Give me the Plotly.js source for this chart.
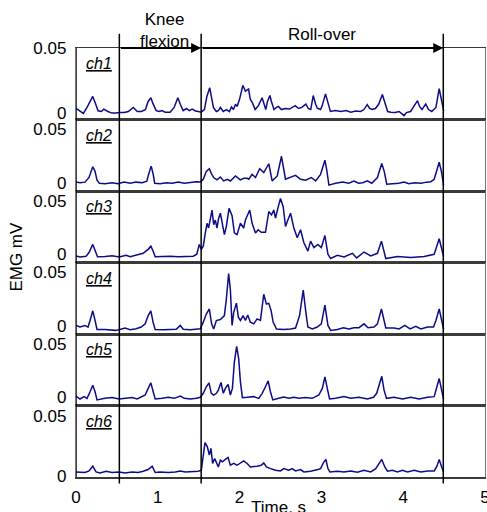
<!DOCTYPE html>
<html>
<head>
<meta charset="utf-8">
<script src="https://cdn.plot.ly/plotly-3.0.1.min.js"></script>
<style>html,body{margin:0;padding:0;background:#fff;}#chart{width:487px;height:512px;}</style>
</head>
<body>
<div id="chart"></div>
<script>
// ---- data (time in s, EMG in mV) ----
var ch1_t = [0,0.05,0.09,0.135,0.17,0.205,0.23,0.27,0.31,0.34,0.39,0.44,0.49,0.53,0.59,0.64,0.70,0.75,0.80,0.85,0.88,0.915,0.94,0.98,1.02,1.05,1.09,1.15,1.20,1.245,1.275,1.31,1.35,1.385,1.42,1.46,1.495,1.53,1.57,1.60,1.635,1.655,1.68,1.715,1.74,1.765,1.80,1.84,1.875,1.90,1.925,1.95,1.97,2.0,2.04,2.07,2.11,2.13,2.16,2.19,2.23,2.275,2.30,2.32,2.34,2.37,2.39,2.42,2.45,2.475,2.51,2.56,2.61,2.65,2.68,2.72,2.76,2.81,2.84,2.87,2.90,2.93,2.95,2.99,3.01,3.05,3.08,3.11,3.17,3.24,3.30,3.36,3.42,3.48,3.52,3.56,3.59,3.62,3.66,3.70,3.745,3.775,3.81,3.85,3.90,3.95,4.01,4.04,4.09,4.13,4.175,4.20,4.23,4.275,4.31,4.35,4.40,4.44,4.46,4.495];
var ch1_v = [0.004,0.0015,0.0,0.0046,0.009,0.013,0.009,0.002,0.0015,0.0033,0.0015,0.0003,0.0003,0.0007,0.0007,0.0015,0.0046,0.0015,0.0015,0.003,0.009,0.012,0.0077,0.0022,0.0015,0.0022,0.001,0.001,0.0046,0.012,0.007,0.0022,0.0038,0.0022,0.0034,0.0019,0.0015,0.001,0.003,0.013,0.0196,0.013,0.0046,0.0015,0.0022,0.0046,0.0015,0.003,0.0015,0.005,0.003,0.007,0.0054,0.011,0.0215,0.017,0.0186,0.011,0.0077,0.003,0.006,0.012,0.007,0.003,0.009,0.0137,0.009,0.003,0.0046,0.0054,0.003,0.0038,0.0034,0.0046,0.006,0.0038,0.0046,0.0072,0.0038,0.003,0.0137,0.007,0.004,0.003,0.006,0.015,0.009,0.0015,0.0022,0.0015,0.0022,0.001,0.0019,0.0015,0.003,0.0067,0.0038,0.003,0.0038,0.007,0.0145,0.009,0.0015,0.001,0.0007,0.0015,-0.0016,0.0007,0.0015,0.0054,0.0098,0.0054,0.003,0.0072,0.003,0.0015,0.0046,0.019,0.0116,0.002];

var ch2_t = [0,0.049,0.11,0.159,0.205,0.233,0.257,0.286,0.355,0.441,0.515,0.588,0.662,0.735,0.809,0.866,0.888,0.919,0.944,0.962,1.029,1.103,1.176,1.25,1.324,1.397,1.471,1.52,1.556,1.593,1.63,1.654,1.683,1.724,1.765,1.805,1.85,1.887,1.949,2.01,2.05,2.092,2.112,2.153,2.194,2.246,2.295,2.357,2.398,2.46,2.512,2.561,2.623,2.684,2.745,2.806,2.876,2.929,2.99,3.015,3.043,3.064,3.092,3.174,3.26,3.333,3.398,3.456,3.505,3.562,3.615,3.685,3.713,3.738,3.768,3.799,3.873,3.946,4.011,4.069,4.142,4.216,4.289,4.338,4.379,4.412,4.44,4.467,4.494];
var ch2_v = [0.0008,0,0.0006,0.005,0.015,0.0107,0.0024,-0.0004,-0.0008,0,-0.0008,0.0006,-0.0004,0.0006,0,0.0015,0.0079,0.0156,0.0079,-0.0004,-0.0008,0,-0.0004,0.0006,-0.0004,0.0006,0.001,0.0008,0.0033,0.0107,0.0132,0.0088,0.0049,0.0027,0.0054,0.0017,0.0033,0.0017,0.0064,0.0027,0.0042,0.0042,0.0033,0.0079,0.0049,0.0132,0.0095,0.0178,0.0017,0.0064,0.0248,0.0033,0.0049,0.007,0.0033,0.0024,0.0049,0.0017,0.0079,0.0144,0.0211,0.0125,-0.0022,-0.0004,0.0006,-0.0004,0.0017,-0.0004,0,0.0019,-0.0004,0.0049,0.0125,0.018,0.0107,-0.0013,-0.0008,-0.0004,0.0008,-0.0008,0,-0.0004,0.0006,0.001,0.0033,0.0125,0.0192,0.0107,-0.0022];

var ch3_t = [0,0.049,0.123,0.159,0.205,0.233,0.263,0.355,0.441,0.527,0.613,0.662,0.735,0.821,0.882,0.915,0.944,0.968,1.054,1.152,1.25,1.348,1.434,1.477,1.507,1.532,1.556,1.581,1.602,1.621,1.642,1.663,1.683,1.703,1.724,1.744,1.765,1.789,1.814,1.838,1.871,1.908,1.936,1.969,2.01,2.05,2.071,2.124,2.153,2.194,2.227,2.264,2.316,2.357,2.39,2.418,2.439,2.467,2.5,2.533,2.561,2.59,2.623,2.663,2.705,2.745,2.786,2.835,2.868,2.908,2.957,2.999,3.043,3.08,3.113,3.195,3.276,3.379,3.431,3.521,3.603,3.685,3.734,3.787,3.93,4.093,4.256,4.379,4.44,4.494];
var ch3_v = [-0.0016,-0.0025,-0.0018,0.0016,0.0092,0.003,-0.0023,-0.0021,-0.0014,-0.0025,-0.001,-0.0023,-0.001,0.0009,0.0046,0.0076,0.0028,-0.0023,-0.0021,-0.0018,-0.0023,-0.0021,-0.0018,0,0.0092,0.0046,0.0076,0.02,0.029,0.0246,0.032,0.0414,0.0276,0.032,0.0246,0.0338,0.0384,0.029,0.0184,0.026,0.043,0.036,0.02,0.0184,0.029,0.0246,0.032,0.0414,0.029,0.02,0.023,0.0206,0.0206,0.04,0.0368,0.0414,0.0338,0.043,0.0522,0.0445,0.026,0.032,0.0384,0.0246,0.0154,0.023,0.0108,0.003,0.0123,0.0062,0.0092,0.0062,0.0175,0,-0.004,-0.001,-0.0025,0.0009,-0.0034,0.0021,-0.0015,0.0009,0.0123,-0.004,-0.002,-0.003,-0.0021,0,0.0145,-0.002];

var ch4_t = [0,0.049,0.11,0.147,0.172,0.205,0.233,0.257,0.355,0.478,0.527,0.6,0.662,0.735,0.797,0.846,0.882,0.915,0.944,0.968,1.066,1.152,1.225,1.275,1.311,1.397,1.458,1.52,1.556,1.593,1.63,1.658,1.683,1.716,1.765,1.798,1.814,1.838,1.866,1.887,1.908,1.928,1.961,1.985,2.01,2.043,2.071,2.099,2.132,2.173,2.214,2.255,2.295,2.328,2.357,2.386,2.41,2.451,2.54,2.623,2.684,2.733,2.778,2.81,2.835,2.888,2.95,2.999,3.043,3.08,3.113,3.195,3.268,3.337,3.398,3.46,3.521,3.57,3.643,3.685,3.734,3.787,3.888,3.95,4.02,4.085,4.154,4.216,4.298,4.371,4.4,4.44,4.47,4.494];
var ch4_v = [0.0003,-0.0012,0.0003,-0.0012,0.0049,0.014,0.0049,-0.0034,-0.0034,-0.0043,-0.0037,-0.0021,-0.0037,-0.0028,-0.0012,0.0018,0.0095,0.014,0.0028,-0.0034,-0.0037,-0.0037,-0.0033,0.0003,-0.0033,-0.0037,-0.0034,-0.0028,0.0034,0.011,0.0157,0.0018,-0.003,0.0049,0.0058,0.008,0.0095,0.0249,0.0488,0.034,0.0003,0.0126,0.0212,0.008,0.005,0.0095,0.005,0.0101,0.0034,0.0018,0.0064,0.005,0.0295,0.0203,0.021,0.014,0.0034,-0.003,-0.0034,-0.003,-0.0021,0.0095,0.0334,0.0126,-0.0012,-0.003,-0.0012,0.0018,0.0193,0.0003,-0.0043,-0.0034,-0.0018,-0.003,-0.0018,-0.0018,0.0018,-0.0018,-0.0012,0.0018,0.0157,-0.002,-0.002,-0.003,0.0003,-0.003,-0.0006,-0.003,-0.0012,-0.0012,0.0049,0.0157,0.005,-0.0034];

var ch5_t = [0,0.049,0.098,0.135,0.172,0.205,0.233,0.257,0.355,0.441,0.527,0.613,0.686,0.748,0.797,0.846,0.882,0.915,0.944,0.968,1.054,1.127,1.201,1.275,1.324,1.397,1.471,1.52,1.556,1.593,1.626,1.654,1.683,1.716,1.74,1.773,1.801,1.826,1.859,1.887,1.912,1.936,1.964,1.989,2.01,2.034,2.092,2.173,2.234,2.276,2.316,2.349,2.377,2.406,2.479,2.54,2.602,2.663,2.724,2.806,2.888,2.969,3.011,3.043,3.072,3.1,3.174,3.276,3.358,3.46,3.562,3.636,3.676,3.713,3.738,3.766,3.796,3.888,3.991,4.093,4.195,4.298,4.379,4.412,4.44,4.47,4.494];
var ch5_v = [0.0012,-0.0016,0.0006,-0.001,0.0052,0.0113,0.0052,-0.0025,-0.001,-0.0003,-0.0016,-0.001,-0.0003,-0.0016,0.0006,0.0021,0.0083,0.0135,0.0052,-0.0016,-0.001,0,-0.001,0.0012,-0.001,-0.0016,-0.001,0,0.0037,0.0098,0.0135,0.0037,0.0021,0.0037,0.0067,0.0138,0.0037,0.0083,0.012,0.0021,0.0083,0.0329,0.0476,0.0359,0.0144,-0.0003,0,0.0006,-0.001,0.0037,0.0098,0.0154,0.0052,-0.0025,-0.001,0.0003,-0.001,0,-0.001,-0.0003,-0.001,0.0021,0.0083,0.019,0.0083,-0.0016,-0.001,0.0006,-0.001,0,-0.0016,0,0.0037,0.0144,0.0196,0.0067,-0.001,0,-0.0016,0,-0.0016,0,0.0006,0.0098,0.0175,0.0067,-0.0016];

var ch6_t = [0,0.11,0.159,0.205,0.245,0.294,0.368,0.441,0.527,0.6,0.686,0.76,0.821,0.882,0.931,0.968,1.029,1.127,1.213,1.275,1.336,1.422,1.495,1.532,1.556,1.577,1.605,1.63,1.65,1.67,1.695,1.716,1.74,1.765,1.789,1.826,1.859,1.887,1.928,1.969,2.001,2.05,2.092,2.132,2.214,2.264,2.295,2.328,2.377,2.439,2.5,2.54,2.602,2.643,2.684,2.745,2.786,2.868,2.957,2.99,3.031,3.055,3.08,3.104,3.195,3.276,3.358,3.44,3.521,3.603,3.664,3.705,3.738,3.775,3.808,3.869,3.93,3.991,4.053,4.134,4.216,4.298,4.379,4.412,4.44,4.47,4.494];
var ch6_v = [0.0034,0.0029,0.0042,0.0082,0.0034,0.0025,0.004,0.0029,0.0034,0.0025,0.0034,0.0029,0.004,0.0054,0.0082,0.0029,0.0034,0.0029,0.0034,0.0042,0.0034,0.0037,0.004,0.0048,0.019,0.028,0.0246,0.0175,0.0232,0.0105,0.0147,0.0119,0.0076,0.0133,0.0119,0.0139,0.0156,0.009,0.0105,0.009,0.0105,0.0127,0.0105,0.0076,0.0082,0.009,0.011,0.0076,0.0062,0.0048,0.0042,0.0062,0.0048,0.0062,0.0042,0.0054,0.0034,0.004,0.0054,0.0062,0.0119,0.0139,0.0062,0.0034,0.004,0.0034,0.0042,0.0031,0.0048,0.0034,0.0062,0.0105,0.0139,0.0076,0.004,0.0048,0.0034,0.0048,0.0034,0.0048,0.0034,0.0042,0.0042,0.0082,0.0139,0.0076,0.0034];

var channelNames = ['ch1','ch2','ch3','ch4','ch5','ch6'];
var yTickVals = [0, 0.05];
var yTickText = ['0', '0.05'];
var xTickVals = [0, 1, 2, 3, 4, 5];
var phaseBounds = [0.53, 1.53, 4.49];   // knee flexion start, roll-over start, roll-over end (s)
var phaseNames = ['Knee<br>flexion', 'Roll-over'];

// ---- build ----
var T = [ch1_t, ch2_t, ch3_t, ch4_t, ch5_t, ch6_t];
var V = [ch1_v, ch2_v, ch3_v, ch4_v, ch5_v, ch6_v];
var yRanges = [[-0.0046, 0.05], [-0.0077, 0.0592], [-0.0077, 0.0592], [-0.0077, 0.0592], [-0.0077, 0.0592], [-0.00085, 0.0591]];

var FONT = 'Arial, "Liberation Sans", sans-serif';
var data = [];
var layout = {
  width: 487, height: 512,
  margin: {l: 76, r: 2, t: 48, b: 35},
  paper_bgcolor: '#fff', plot_bgcolor: '#fff',
  showlegend: false,
  font: {family: FONT, color: '#000', size: 17},
  shapes: [], annotations: []
};

for (var i = 0; i < 6; i++) {
  var n = i + 1;
  var xs = n === 1 ? '' : String(n);
  data.push({
    x: T[i], y: V[i], type: 'scatter', mode: 'lines',
    xaxis: 'x' + xs, yaxis: 'y' + xs,
    line: {color: '#0c0c8a', width: 1.5}, hoverinfo: 'skip'
  });
  layout['xaxis' + xs] = {
    domain: [0, 1], range: [0, 5], anchor: 'y' + xs,
    matches: n === 1 ? undefined : 'x',
    tickvals: xTickVals, ticks: '', showticklabels: n === 6,
    tickfont: {size: 17, family: FONT}, ticklabelstandoff: 4,
    ticklabeloverflow: 'allow',
    showgrid: false, zeroline: false,
    showline: true, mirror: true, linecolor: '#3a3a3a', linewidth: 1.5
  };
  layout['yaxis' + xs] = {
    domain: [(5 - i) / 6, (6 - i) / 6], range: yRanges[i], anchor: 'x' + xs,
    tickvals: yTickVals, ticktext: yTickText, ticks: '',
    tickfont: {size: 17, family: FONT}, ticklabelstandoff: 5,
    showgrid: false, zeroline: false,
    showline: true, mirror: true, linecolor: '#777', linewidth: 1.2
  };
  layout.annotations.push({
    xref: 'x', yref: 'y' + xs + ' domain', x: 0.28, y: 0.78,
    xanchor: 'center', yanchor: 'middle', showarrow: false,
    text: '<i><u>' + channelNames[i] + '</u></i>',
    font: {size: 16, family: FONT, color: '#000'}
  });
}

// left black border
layout.shapes.push({type: 'line', xref: 'x', yref: 'paper', x0: 0, x1: 0, y0: 0, y1: 1,
  line: {color: '#000', width: 1.5}});
// phase boundary lines
phaseBounds.forEach(function (b) {
  layout.shapes.push({type: 'line', xref: 'x', yref: 'paper', x0: b, x1: b, y0: -0.015, y1: 1.033,
    line: {color: '#000', width: 1.5}});
});
// phase arrows along the top of ch1
for (var k = 0; k < 2; k++) {
  layout.annotations.push({
    xref: 'x', yref: 'y', axref: 'x', ayref: 'y',
    x: phaseBounds[k + 1], y: 0.05, ax: phaseBounds[k], ay: 0.05,
    text: '', showarrow: true, arrowhead: 2, arrowsize: 1, arrowwidth: 2,
    arrowcolor: '#000', standoff: 0, startstandoff: 0
  });
}
layout.annotations.push({
  xref: 'x', yref: 'paper', x: (phaseBounds[0] + phaseBounds[1]) / 2 + 0.05, y: 1.041,
  xanchor: 'center', yanchor: 'middle', showarrow: false, text: phaseNames[0],
  font: {size: 17, family: FONT, color: '#000'}
});
layout.annotations.push({
  xref: 'x', yref: 'paper', x: 3.01, y: 1.032,
  xanchor: 'center', yanchor: 'middle', showarrow: false, text: phaseNames[1],
  font: {size: 17, family: FONT, color: '#000'}
});
// axis titles
layout.annotations.push({
  xref: 'paper', yref: 'paper', x: -0.145, y: 0.513, textangle: -90,
  xanchor: 'center', yanchor: 'middle', showarrow: false, text: 'EMG mV',
  font: {size: 17, family: FONT, color: '#000'}
});
layout.annotations.push({
  xref: 'paper', yref: 'paper', x: 0.494, y: -0.072,
  xanchor: 'center', yanchor: 'middle', showarrow: false, text: 'Time, s',
  font: {size: 17, family: FONT, color: '#000'}
});

Plotly.newPlot('chart', data, layout, {staticPlot: true, displayModeBar: false});
</script>
</body>
</html>
